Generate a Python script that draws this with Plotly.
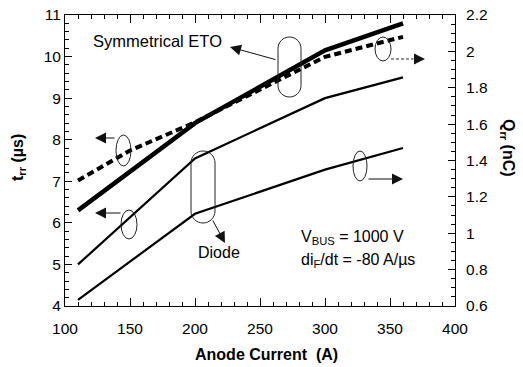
import plotly.graph_objects as go

# ---------------- data ----------------
current = [110, 200, 300, 360]
eto_trr = [6.3, 8.4, 10.15, 10.8]        # left axis (us)
current_q = [110, 150, 200, 300, 360]
eto_qrr = [1.29, 1.455, 1.61, 1.97, 2.08]  # right axis (nC)
diode_trr = [5.0, 7.55, 9.0, 9.5]        # left axis (us)
diode_qrr = [0.634, 1.107, 1.35, 1.469]  # right axis (nC)

x_ticks = [100, 150, 200, 250, 300, 350, 400]
y_range = [4, 11]
y2_range = [0.6, 2.2]

FONT = "Liberation Sans, Arial, sans-serif"

# pixel geometry (for annotation shapes)
W, H = 523, 367
L, R, T, B = 65, 68, 15, 61
PX0, PX1 = L, W - R
PY0, PY1 = T, H - B


def px2d(px, py):
    x = 100 + (px - PX0) * 300.0 / (PX1 - PX0)
    y = 11 - (py - PY0) * 7.0 / (PY1 - PY0)
    return x, y


def stadium_path(x0, x1, y0, y1):
    r = (x1 - x0) / 2.0
    cx = (x0 + x1) / 2.0
    k = 0.5523 * r
    ty = y0 + r
    by = y1 - r

    def P(a, b):
        xx, yy = px2d(a, b)
        return f"{xx:.4f},{yy:.4f}"
    d = f"M {P(x0, ty)} "
    d += f"C {P(x0, ty - k)} {P(cx - k, y0)} {P(cx, y0)} "
    d += f"C {P(cx + k, y0)} {P(x1, ty - k)} {P(x1, ty)} "
    d += f"L {P(x1, by)} "
    d += f"C {P(x1, by + k)} {P(cx + k, y1)} {P(cx, y1)} "
    d += f"C {P(cx - k, y1)} {P(x0, by + k)} {P(x0, by)} Z"
    return d


fig = go.Figure()
fig.add_trace(go.Scatter(x=current, y=eto_trr, mode="lines",
                         line=dict(color="black", width=4.5), yaxis="y"))
fig.add_trace(go.Scatter(x=current_q, y=eto_qrr, mode="lines",
                         line=dict(color="black", width=4, dash="7px,4px"), yaxis="y2"))
fig.add_trace(go.Scatter(x=current, y=diode_trr, mode="lines",
                         line=dict(color="black", width=2.2), yaxis="y"))
fig.add_trace(go.Scatter(x=current, y=diode_qrr, mode="lines",
                         line=dict(color="black", width=2.2), yaxis="y2"))

shapes = []
ellipses_px = [
    (116, 131, 135, 166),
    (121, 137, 210, 239),
    (375, 391, 37, 61),
    (353, 367, 151, 181),
]
for (a, b, c, d) in ellipses_px:
    xa, yc = px2d(a, c)
    xb, yd = px2d(b, d)
    shapes.append(dict(type="circle", xref="x", yref="y", x0=xa, x1=xb, y0=yd, y1=yc,
                       line=dict(color="#222", width=1)))
for (a, b, c, d) in [(278, 301, 37, 97), (191, 215, 151, 223)]:
    shapes.append(dict(type="path", xref="x", yref="y", path=stadium_path(a, b, c, d),
                       line=dict(color="#222", width=1)))
xa, ya = px2d(391, 59)
xb, yb = px2d(413, 59)
shapes.append(dict(type="line", xref="x", yref="y", x0=xa, y0=ya, x1=xb, y1=yb,
                   line=dict(color="#222", width=1, dash="3px,2px")))

annotations = []


def arrow(tail, head):
    hx, hy = px2d(*head)
    annotations.append(dict(x=hx, y=hy, xref="x", yref="y", text="", showarrow=True,
                            arrowhead=2, arrowsize=2.2, arrowwidth=1, arrowcolor="#111",
                            ax=tail[0] - head[0], ay=tail[1] - head[1], standoff=0,
                            startstandoff=0))


arrow((116, 138), (95, 138))
arrow((122, 213), (95, 213))
arrow((412, 59), (425, 59))
arrow((367, 179), (403, 179))
arrow((277, 60), (230, 47))
arrow((212, 219), (225, 243))


def text(px, py, s, size=16, anchor="center"):
    x, y = px2d(px, py)
    annotations.append(dict(x=x, y=y, xref="x", yref="y", text=s, showarrow=False,
                            xanchor=anchor, yanchor="middle",
                            font=dict(family=FONT, size=size, color="black")))


text(157, 41, "Symmetrical ETO", size=16.5)
text(219, 252, "Diode")
text(299, 237, "V<sub>BUS</sub> = 1000 V", anchor="left")
text(299, 260, "di<sub>F</sub>/dt = -80 A/µs", anchor="left")


def paper_text(px, py, s, angle):
    annotations.append(dict(x=(px - L) / (W - L - R), y=1 - (py - T) / (H - T - B),
                            xref="paper", yref="paper", text=s, showarrow=False,
                            xanchor="center", yanchor="middle", textangle=angle,
                            font=dict(family=FONT, size=16, color="black")))


paper_text(18, 158, "<b>t<sub>rr</sub> (µs)</b>", -90)
paper_text(507, 148, "<b>Q<sub>rr</sub> (nC)</b>", 90)
paper_text(266, 354, "<b>Anode Current\u00a0\u00a0(A)</b>", 0)

axis_common = dict(showline=True, linecolor="black", linewidth=1, showgrid=False,
                   zeroline=False, ticks="inside", tickcolor="black", tickwidth=1,
                   automargin=False,
                   tickfont=dict(family=FONT, size=15.5, color="black"))

fig.update_layout(
    width=W, height=H, autosize=False,
    margin=dict(l=L, r=R, t=T, b=B, pad=0),
    paper_bgcolor="white", plot_bgcolor="white",
    showlegend=False,
    font=dict(family=FONT, color="black"),
    xaxis=dict(range=[100, 400], tickvals=x_ticks, ticklen=8, mirror="ticks",
               ticklabelstandoff=8,
               minor=dict(dtick=10, tick0=100, ticks="inside", ticklen=4, tickcolor="black"),
               **axis_common),
    yaxis=dict(range=y_range, dtick=1, tick0=4, ticklen=7, mirror=False,
               minor=dict(dtick=0.2, tick0=4, ticks="inside", ticklen=4, tickcolor="black"),
               **axis_common),
    yaxis2=dict(range=y2_range, dtick=0.2, tick0=0.6, ticklen=7, overlaying="y", side="right",
                ticklabelstandoff=7,
                minor=dict(dtick=0.05, tick0=0.6, ticks="inside", ticklen=4, tickcolor="black"),
                **axis_common),
    shapes=shapes,
    annotations=annotations,
)

fig.write_html("out.html")
